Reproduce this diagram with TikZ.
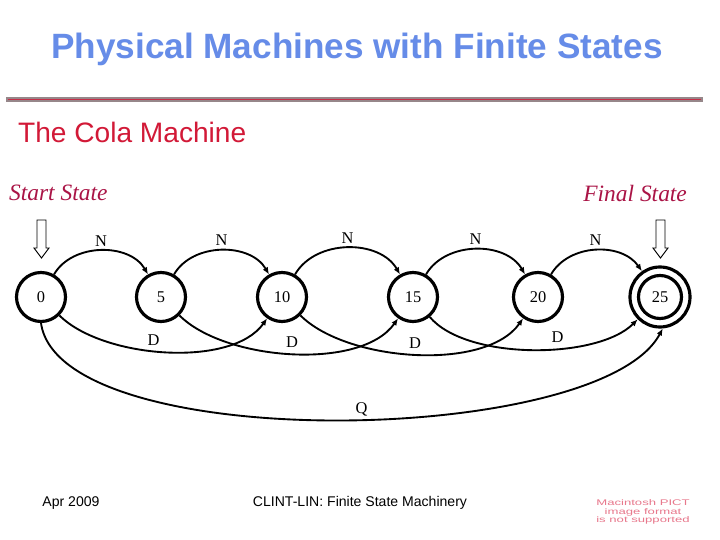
\documentclass[tikz,border=0pt]{standalone}
\usepackage{fontspec}
\setmainfont{Liberation Serif}
\setsansfont{Liberation Sans}
\usetikzlibrary{arrows.meta}

\definecolor{titleblue}{RGB}{102,140,232}
\definecolor{colared}{RGB}{210,25,55}
\definecolor{statered}{RGB}{170,20,70}
\definecolor{rulegray}{RGB}{150,135,138}
\definecolor{pictpink}{RGB}{232,120,140}

\tikzset{
  state/.style={circle, draw, line width=2.7pt, minimum size=14.7mm, inner sep=0pt,
    font=\fontsize{14}{16}\selectfont},
  trans/.style={line width=1.6pt, -{Latex[length=6pt,width=5pt]}},
  lbl/.style={font=\fontsize{14}{16}\selectfont, inner sep=2pt},
  pointer/.style={draw, fill=white, line width=0.8pt}
}

\begin{document}
\begin{tikzpicture}[x=0.3mm, y=0.3mm]
  \fill[white] (0,0) rectangle (720,540);
  \useasboundingbox (0,0) rectangle (720,540);

  % Kop
  \node[font=\sffamily\bfseries\fontsize{30}{34}\selectfont, text=titleblue] (title) at (357,491) {Physical Machines with Finite States};
  \fill[rulegray] (6,438) rectangle (703,443);
  \draw[colared!80!rulegray, line width=0.8pt] (8,440.5) -- (701,440.5);
  \node[anchor=west, font=\sffamily\fontsize{24}{28}\selectfont, text=colared] (cola) at (14,408) {The Cola Machine};
  \node[anchor=west, font=\itshape\fontsize{20}{24}\selectfont, text=statered] (startlbl) at (5,347) {Start State};
  \node[anchor=east, font=\itshape\fontsize{20}{24}\selectfont, text=statered] (finallbl) at (691,347) {Final State};

  % Toestanden
  \node[state] (s0) at (41,243) {0};
  \node[state] (s5) at (161,243) {5};
  \node[state] (s10) at (282,243) {10};
  \node[state] (s15) at (413,243) {15};
  \node[state] (s20) at (538,243) {20};
  \node[state, minimum size=18mm] (s25) at (660,243) {25};
  \draw[line width=2.7pt] (s25) circle (21.5);

  % Start- en eindpijl
  \draw[pointer] (37,320) -- (46,320) -- (46,292) -- (49,292) -- (41.5,282) -- (34,292) -- (37,292) -- cycle;
  \draw[pointer] (656,320) -- (665,320) -- (665,292) -- (668,292) -- (660.5,282) -- (653,292) -- (656,292) -- cycle;

  % N: nickel
  \draw[trans] (s0) to[out=60, in=120] node[lbl, above=1pt] {N} (s5);
  \draw[trans] (s5) to[out=60, in=120] node[lbl, above=1pt] {N} (s10);
  \draw[trans] (s10) to[out=60, in=120] node[lbl, above=1pt] {N} (s15);
  \draw[trans] (s15) to[out=60, in=120] node[lbl, above=1pt] {N} (s20);
  \draw[trans] (s20) to[out=60, in=125] node[lbl, above=1pt] {N} (s25);

  % D: dime
  \draw[trans] (s0) to[out=-45, in=-125, looseness=0.75] node[lbl, above=2pt, pos=0.45] {D} (s10);
  \draw[trans] (s5) to[out=-45, in=-125, looseness=0.75] node[lbl, above=2pt] {D} (s15);
  \draw[trans] (s10) to[out=-45, in=-125, looseness=0.75] node[lbl, above=2pt] {D} (s20);
  \draw[trans] (s15) to[out=-50, in=-135, looseness=0.7] node[lbl, above=2pt, pos=0.6] {D} (s25);

  % Q: quarter
  \draw[trans] (s0.south) to[out=-82, in=-118, looseness=0.55] node[lbl, above, pos=0.53] {Q} (s25.-85);

  % Voet
  \node[font=\sffamily\fontsize{12}{14}\selectfont] (date) at (71,37) {Apr 2009};
  \node[font=\sffamily\fontsize{12}{14}\selectfont] (course) at (360,37) {CLINT-LIN: Finite State Machinery};
  \node[font=\sffamily\fontsize{7}{7.2}\selectfont, text=pictpink, align=center, xscale=1.6, transform shape] (pict) at (643,28) {Macintosh PICT\\image format\\is not supported};
\end{tikzpicture}
\end{document}
